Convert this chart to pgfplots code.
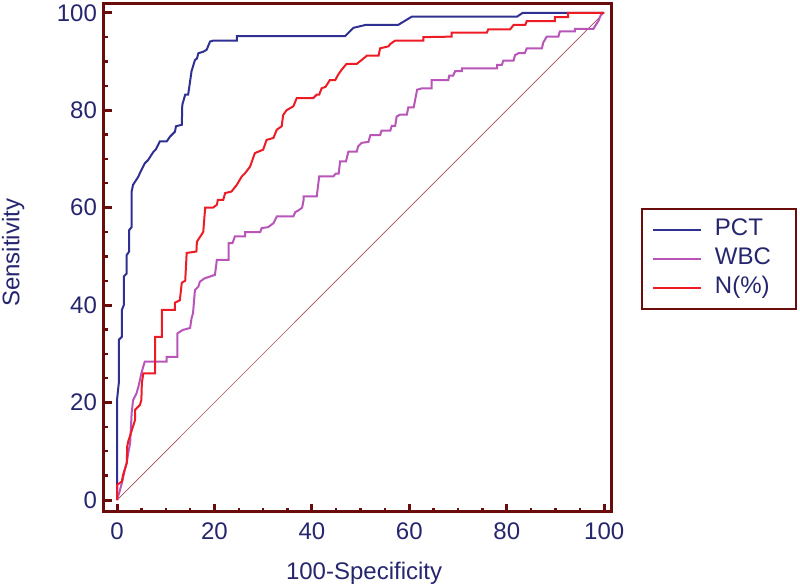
\documentclass[border=0pt]{standalone}
\usepackage{fontspec}
\setmainfont{Liberation Sans}
\usepackage{pgfplots}
\pgfplotsset{compat=1.18}
\definecolor{frame}{RGB}{107,12,12}
\definecolor{txt}{RGB}{38,38,110}
\definecolor{pct}{RGB}{46,49,146}
\definecolor{wbc}{RGB}{185,85,185}
\definecolor{npc}{RGB}{237,28,36}
\definecolor{diag}{RGB}{165,75,85}
\begin{document}
\begin{tikzpicture}[font=\fontsize{12}{14}\selectfont]
\useasboundingbox (-52pt,-38pt) rectangle (348pt,256pt);
\begin{axis}[
  at={(0pt,0pt)}, anchor=south west,
  scale only axis, width=254pt, height=254pt,
  xmin=-2.67, xmax=101.6, ymin=-2.46, ymax=101.8,
  xtick={0,20,...,100}, ytick={0,20,...,100},
  minor tick num=3,
  tick pos=left, tick align=inside,
  axis line style={frame, line width=1.5pt},
  major tick length=4pt, minor tick length=2pt,
  major tick style={frame, line width=1.5pt},
  minor tick style={frame, line width=1.2pt},
  ticklabel style={text=txt, font=\fontsize{12}{14}\selectfont},
  /pgf/number format/assume math mode=true,
  xticklabel style={yshift=-2pt},
  xlabel={100-Specificity}, ylabel={Sensitivity},
  label style={text=txt, font=\fontsize{12}{14}\selectfont},
  xlabel style={at={(axis description cs:0.512,-0.12)}, anchor=center},
  ylabel style={at={(axis description cs:-0.179,0.51)}, anchor=center},
  legend style={at={(axis description cs:1.057,0.598)}, anchor=north west,
    draw=frame, line width=1pt, inner xsep=5pt, inner ysep=3pt,
    nodes={inner sep=1.5pt, text height=8.6pt, text depth=3pt, text=txt},
    /tikz/every odd column/.append style={column sep=5pt},
    font=\fontsize{12}{14}\selectfont},
  legend cell align=left,
  legend image code/.code={\draw[#1, line width=1pt] (0pt,0pt) -- (24pt,0pt);},
]
\addplot[diag, line width=0.35pt, forget plot] coordinates {(0,0) (100,100)};
\addplot[pct, line width=1pt] coordinates {
(0,0)(0,20.5)(0.4,24.3)(0.4,32.9)(1.0,33.5)(1.0,39)(1.4,40)(1.4,45.9)(2.0,46.5)(2.0,50.3)(2.5,51)(2.5,55.4)(3.0,56)(3.0,61.6)(3.0,63.3)(3.3,64.7)(4.4,66.4)(4.7,67.1)(5.7,69.1)(6.4,69.8)(7.5,71.5)(8,72)(8.8,73.6)(10.2,73.6)(10.9,74.6)(11.9,75.6)(12.1,76.7)(13.3,77)(13.4,81.1)(14,83.2)(14.6,83.2)(15,85.9)(15.3,88)(16,90.3)(16.4,90.6)(16.7,91.7)(17.7,92)(18.4,92.4)(19.1,94.1)(19.8,94.3)(24.6,94.3)(24.6,95.2)(46.8,95.2)(48.5,96.9)(51,97.5)(57.7,97.5)(60.5,99.2)(82.1,99.2)(83.3,100)(100,100)
};
\addlegendentry{\makebox[34pt][l]{PCT}}
\addplot[wbc, line width=1pt] coordinates {
(0,0)(0.3,1)(0.6,2)(1,3.5)(1.3,4.8)(1.6,6.2)(2,7.6)(2.3,9.6)(2.7,11.7)(3,17.8)(3.3,20.5)(4,21.9)(4.4,23.3)(4.7,24.6)(5,26)(5.4,27.4)(5.7,28.4)(10.2,28.4)(10.2,29.4)(12.4,29.4)(12.4,34.2)(13.5,34.9)(15,35.3)(15.3,37.3)(15.6,38.3)(16,43.1)(16.7,43.8)(17,44.8)(18,45.5)(20.1,46.2)(20.5,49.3)(22.9,49.3)(22.9,52.7)(23.7,52.7)(24.2,54.1)(26.3,54.1)(26.3,55)(29.4,55)(29.7,55.8)(31,56)(32.1,56.8)(32.8,58.2)(36.2,58.2)(36.6,59.1)(37.2,59.4)(38,60)(38.3,61.6)(38.3,62.3)(41,62.3)(41.5,66.4)(44.4,66.4)(44.9,67)(45.5,67)(45.8,69.5)(47,69.5)(47.5,71.5)(49.2,71.5)(49.5,72.6)(50.2,73.3)(51.6,73.5)(52,74.9)(54,74.9)(54.3,75.8)(56.1,75.8)(56.4,76.8)(57.1,76.8)(57.4,78.7)(58.1,79.1)(59.5,79.1)(59.8,80.6)(60.9,80.6)(61.6,84.2)(62.6,84.5)(64.6,84.5)(64.6,86.2)(68,86.2)(68.2,87.1)(69,87.1)(69.4,88)(70.8,88)(70.8,88.6)(78,88.6)(78,89.3)(79,89.3)(79.3,90.2)(81.4,90.2)(81.7,91.3)(82.4,91.7)(83.7,91.7)(84.1,92.7)(87.2,92.7)(87.5,93.9)(88.2,95.1)(90.6,95.1)(90.9,96.2)(94,96.2)(94,96.7)(97.8,96.7)(98.2,97.4)(98.8,98.3)(99.5,100)(100,100)
};
\addlegendentry{\makebox[34pt][l]{WBC}}
\addplot[npc, line width=1pt] coordinates {
(0,0)(0,3.1)(1.0,3.8)(1.2,5)(2.0,7.6)(2.1,11)(2.3,12)(3.7,16.4)(3.7,18.5)(4.7,19.5)(5.0,20.5)(5.1,24)(5.4,26)(7.8,26)(7.8,33.5)(9.2,33.5)(9.2,39)(11.9,39)(11.9,40.5)(12.9,41)(13.3,44.6)(14,45)(14.3,50.7)(16.3,51)(16.4,53)(17.7,55)(18.1,60)(19.7,60)(20.5,60.6)(20.7,61.6)(21.8,61.6)(22.2,63)(23.5,63.3)(24.6,64.7)(25.6,66.4)(26.3,67.1)(27.3,68.4)(28.3,71.2)(30,71.9)(30.7,73.9)(32.1,74.3)(32.8,76)(33.8,76.7)(34.1,79)(34.8,80)(36.2,80.8)(36.9,82.5)(40.3,82.5)(41,83.2)(41.5,83.2)(42,84.5)(42.8,84.8)(43.7,86.2)(44.8,86.2)(45.4,87.3)(46.1,88.3)(47.1,89.5)(49.2,89.5)(50.2,90.3)(51.3,91.2)(53.7,91.2)(54,92.7)(55.7,93.1)(56.1,93.6)(57.1,94.3)(62.9,94.3)(62.9,95)(68.7,95.1)(68.7,95.9)(75.9,95.9)(76.2,96.6)(80.7,96.6)(81.4,97.5)(83.8,97.5)(84.1,98.3)(89.9,98.3)(89.9,99.1)(92.6,99.1)(92.6,100)(100,100)
};
\addlegendentry{\makebox[34pt][l]{N(\%)}}
\end{axis}
\end{tikzpicture}
\end{document}
